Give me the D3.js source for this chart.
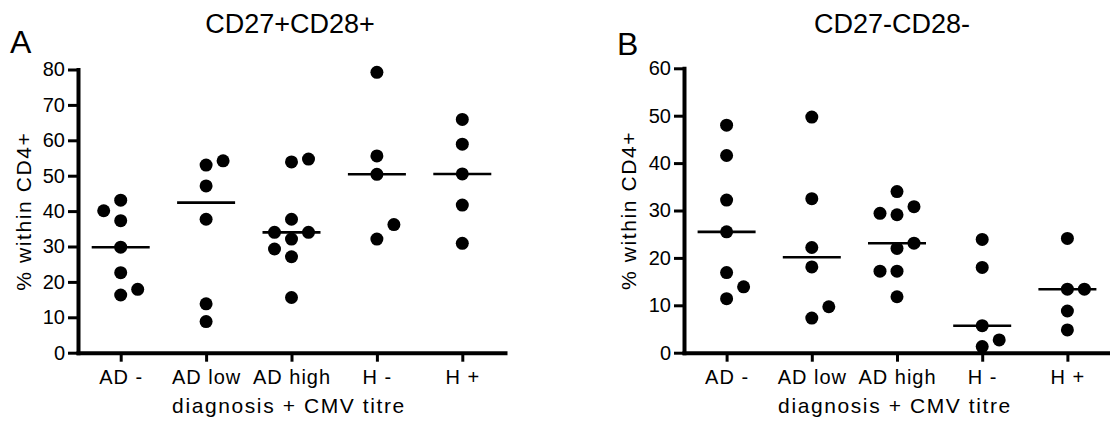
<!DOCTYPE html>
<html>
<head>
<meta charset="utf-8">
<script src="https://cdn.jsdelivr.net/npm/d3@7"></script>
<style>
  body { margin: 0; background: #fff; }
  svg text { font-family: "Liberation Sans", Arial, sans-serif; fill: #000; }
  .tick text { font-size: 20px; }
  .xax .tick text { letter-spacing: 1px; }
  .title { font-size: 27px; }
  .letter { font-size: 32px; }
  .axtitle { font-size: 21px; letter-spacing: 1.6px; }
</style>
</head>
<body>
<div class="canvas"></div>
<script>

// categories on the x axis
var categories = ["AD -", "AD low", "AD high", "H -", "H +"];

// % within CD4+, CD27+CD28+ (panel A), one array per group, in table order
var cd27posADneg  = [43.1, 37.3, 29.8, 22.6, 16.3, 17.9, 40.1];
var cd27posADlow  = [53.0, 47.1, 37.7, 8.8, 13.8, 54.2];
var cd27posADhigh = [53.9, 37.7, 32.1, 27.1, 15.6, 54.7, 34.0, 34.0, 29.3];
var cd27posHneg   = [79.2, 55.6, 50.4, 32.1, 36.2];
var cd27posHpos   = [65.9, 58.9, 50.5, 41.7, 30.9];

// % within CD4+, CD27-CD28- (panel B)
var cd27negADneg  = [48.0, 41.6, 32.2, 25.5, 16.9, 11.4, 13.9];
var cd27negADlow  = [49.7, 32.5, 22.2, 18.1, 7.3, 9.7];
var cd27negADhigh = [34.0, 29.1, 22.0, 17.2, 11.8, 30.8, 29.4, 23.1, 17.2];
var cd27negHneg   = [23.9, 18.0, 5.7, 1.3, 2.7];
var cd27negHpos   = [24.1, 13.4, 8.8, 4.8, 13.4];

// y tick labels
var ticksA = [0, 10, 20, 30, 40, 50, 60, 70, 80];
var ticksB = [0, 10, 20, 30, 40, 50, 60];


var svg = d3.select(".canvas")
            .append("svg")
            .attr("width", 1110)
            .attr("height", 424);

var panels = [
  {
    letter: "A", letterX: 10, letterY: 53,
    title: "CD27+CD28+", titleX: 290,
    left: 78, right: 505, top: 69.5, bottom: 352.7,
    ymax: 80, ticks: ticksA,
    groups: [cd27posADneg, cd27posADlow, cd27posADhigh, cd27posHneg, cd27posHpos],
    ytitleX: 31, xtitleX: 289
  },
  {
    letter: "B", letterX: 617, letterY: 55,
    title: "CD27-CD28-", titleX: 892,
    left: 684, right: 1110, top: 68.3, bottom: 352.7,
    ymax: 60, ticks: ticksB,
    groups: [cd27negADneg, cd27negADlow, cd27negADhigh, cd27negHneg, cd27negHpos],
    ytitleX: 636, xtitleX: 895
  }
];

var R = 6.5;      // dot radius
var SLOT = 17;    // horizontal step when dots collide
var HIT = 16;     // vertical distance that counts as a collision

// simple column scatter: center first, otherwise alternate right / left
function place(values, y) {
  var placed = [];
  var turn = 1;
  values.forEach(function(v){
    var py = y(v);
    var free = function(s){
      return !placed.some(function(p){ return p.slot == s && Math.abs(p.py - py) < HIT; });
    };
    var slot = 0;
    if (!free(0)) {
      var tries = [turn, -turn, 2 * turn, -2 * turn];
      slot = tries.find(free);
      turn = -turn;
    }
    placed.push({v: v, py: py, slot: slot});
  });
  return placed;
}

panels.forEach(function(p){

  var x = d3.scalePoint()
            .domain(categories)
            .range([p.left, p.right])
            .padding(0.5);

  var y = d3.scaleLinear()
            .domain([0, p.ymax])
            .range([p.bottom, p.top]);

  var g = svg.append("g");

  // axes
  var yAxis = g.append("g")
     .attr("transform", "translate(" + p.left + ",0)")
     .call(d3.axisLeft(y).tickValues(p.ticks).tickSize(10).tickSizeOuter(0).tickPadding(3));

  var xAxis = g.append("g")
     .attr("class", "xax")
     .attr("transform", "translate(0," + p.bottom + ")")
     .call(d3.axisBottom(x).tickSize(9).tickSizeOuter(0).tickPadding(8));

  [yAxis, xAxis].forEach(function(a){
    a.select(".domain").attr("stroke", "#000").attr("stroke-width", 4).attr("stroke-linecap", "square");
    a.selectAll(".tick line").attr("stroke", "#000").attr("stroke-width", 3);
    a.selectAll(".tick text").attr("fill", "#000").style("font-size", "20px");
    a.attr("font-family", null).attr("font-size", null);
  });

  // dots + median lines
  p.groups.forEach(function(vals, i){
    var cx = x(categories[i]);
    var dots = place(vals, y);

    g.append("line")
     .attr("x1", cx - 29)
     .attr("x2", cx + 29)
     .attr("y1", y(d3.median(vals)))
     .attr("y2", y(d3.median(vals)))
     .attr("stroke", "#000")
     .attr("stroke-width", 2.6);

    g.selectAll(null)
     .data(dots)
     .enter()
     .append("circle")
     .attr("cx", function(d){ return cx + d.slot * SLOT; })
     .attr("cy", function(d){ return d.py; })
     .attr("r", R)
     .attr("fill", "#000");
  });

  // labels
  g.append("text")
   .attr("class", "letter")
   .attr("x", p.letterX)
   .attr("y", p.letterY)
   .text(p.letter);

  g.append("text")
   .attr("class", "title")
   .attr("x", p.titleX)
   .attr("y", 33)
   .attr("text-anchor", "middle")
   .text(p.title);

  g.append("text")
   .attr("class", "axtitle")
   .attr("transform", "translate(" + p.ytitleX + "," + ((p.top + p.bottom) / 2) + ") rotate(-90)")
   .attr("text-anchor", "middle")
   .text("% within CD4+");

  g.append("text")
   .attr("class", "axtitle")
   .attr("x", p.xtitleX)
   .attr("y", 413)
   .attr("text-anchor", "middle")
   .text("diagnosis + CMV titre");
});

</script>
</body>
</html>
